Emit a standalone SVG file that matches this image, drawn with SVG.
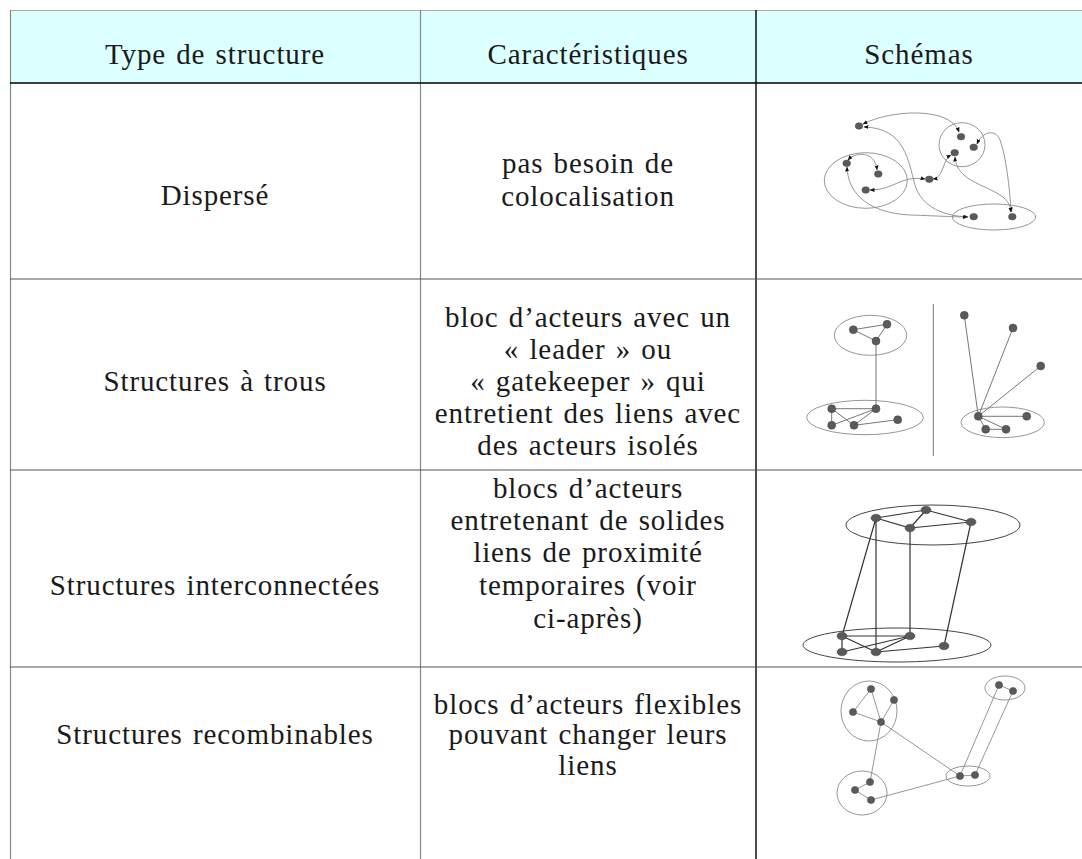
<svg xmlns="http://www.w3.org/2000/svg" width="1082" height="859" viewBox="0 0 1082 859">
<style>
text{font-family:"Liberation Serif","Times New Roman",serif;font-size:29px;fill:#1a1a1a;text-anchor:middle;letter-spacing:0.9px;word-spacing:2px}
.rl{stroke:#555;stroke-width:1;fill:none}
.el{fill:none;stroke:#8a8a8a;stroke-width:0.9}
.el3{fill:none;stroke:#444;stroke-width:1}
.nd{fill:#5a5a5a;stroke:#444;stroke-width:0.5}
.c1{fill:none;stroke:#8a8a8a;stroke-width:0.9}
.c2{fill:none;stroke:#777;stroke-width:1}
.c3{fill:none;stroke:#333;stroke-width:1.2}
.c4{fill:none;stroke:#8a8a8a;stroke-width:0.9}
</style>
<defs>
<marker id="ah" viewBox="0 0 10 10" refX="9" refY="5" markerWidth="5" markerHeight="5" orient="auto-start-reverse" markerUnits="userSpaceOnUse">
<path d="M0,1 L10,5 L0,9 z" fill="#111"/>
</marker>
</defs>
<g id="table">
<rect x="10" y="10" width="1072" height="73" fill="#dcffff"/>
<line x1="10" y1="10.5" x2="1082" y2="10.5" stroke="#aaa" stroke-width="1"/>
<line x1="10.5" y1="10" x2="10.5" y2="859" stroke="#888" stroke-width="1.2"/>
<line x1="420.5" y1="10" x2="420.5" y2="859" stroke="#888" stroke-width="1.2"/>
<line x1="756" y1="10" x2="756" y2="859" stroke="#000" stroke-width="1.4"/>
<line x1="10" y1="83" x2="1082" y2="83" stroke="#000" stroke-width="1.3"/>
<line class="rl" x1="10" y1="279" x2="1082" y2="279"/>
<line class="rl" x1="10" y1="470" x2="1082" y2="470"/>
<line class="rl" x1="10" y1="667" x2="1082" y2="667"/>
</g>
<g id="header">
<text x="215" y="64">Type de structure</text>
<text x="588" y="64">Caractéristiques</text>
<text x="919" y="64">Schémas</text>
</g>
<g id="row1">
<text x="215" y="205">Dispersé</text>
<text x="588" y="173">pas besoin de</text>
<text x="588" y="206">colocalisation</text>
</g>
<g id="row2">
<text x="215" y="391">Structures à trous</text>
<text x="588" y="327">bloc d’acteurs avec un</text>
<text x="588" y="359">« leader » ou</text>
<text x="588" y="391">« gatekeeper » qui</text>
<text x="588" y="423">entretient des liens avec</text>
<text x="588" y="455">des acteurs isolés</text>
</g>
<g id="row3">
<text x="215" y="595">Structures interconnectées</text>
<text x="588" y="498">blocs d’acteurs</text>
<text x="588" y="530">entretenant de solides</text>
<text x="588" y="562">liens de proximité</text>
<text x="588" y="595">temporaires (voir</text>
<text x="588" y="628">ci-après)</text>
</g>
<g id="row4">
<text x="215" y="744">Structures recombinables</text>
<text x="588" y="714">blocs d’acteurs flexibles</text>
<text x="588" y="744">pouvant changer leurs</text>
<text x="588" y="775">liens</text>
</g>
<g id="schema1">
<ellipse class="el" cx="865.8" cy="180.5" rx="41.5" ry="27.8"/>
<ellipse class="el" cx="962" cy="144.7" rx="23" ry="22"/>
<ellipse class="el" cx="994" cy="217" rx="41.7" ry="13"/>
<g id="schema1-connectors">
<path class="c1" d="M863,124 C890,110 950,106 959,132" marker-start="url(#ah)" marker-end="url(#ah)"/>
<path class="c1" d="M864,127 C905,128 908,160 915,185 C922,208 945,216 968,217" marker-start="url(#ah)" marker-end="url(#ah)"/>
<path class="c1" d="M977,144 C982,132 995,128 1000,140 C1006,156 1010,190 1011,212" marker-start="url(#ah)" marker-end="url(#ah)"/>
<path class="c1" d="M955,157 C956,180 985,185 1000,195 C1008,200 1010,205 1011,212" marker-start="url(#ah)" marker-end="url(#ah)"/>
<path class="c1" d="M933,179 C944,178 942,160 951,155" marker-start="url(#ah)" marker-end="url(#ah)"/>
<path class="c1" d="M925,179 C900,175 895,190 870,190" marker-start="url(#ah)" marker-end="url(#ah)"/>
<path class="c1" d="M848,160 C855,152 875,150 877,170" marker-start="url(#ah)" marker-end="url(#ah)"/>
<path class="c1" d="M847,167 C848,195 870,213 910,215 C940,216 955,217 967,217" marker-start="url(#ah)" marker-end="url(#ah)"/>
</g>
<ellipse class="nd" cx="859" cy="126" rx="3.8" ry="3.3"/>
<ellipse class="nd" cx="961" cy="136.7" rx="3.8" ry="3.3"/>
<ellipse class="nd" cx="973.7" cy="147.3" rx="3.8" ry="3.3"/>
<ellipse class="nd" cx="954.7" cy="152.7" rx="3.8" ry="3.3"/>
<ellipse class="nd" cx="846.7" cy="163.3" rx="3.8" ry="3.3"/>
<ellipse class="nd" cx="878.3" cy="174" rx="3.8" ry="3.3"/>
<ellipse class="nd" cx="865.7" cy="190" rx="3.8" ry="3.3"/>
<ellipse class="nd" cx="929.3" cy="179.3" rx="3.8" ry="3.3"/>
<ellipse class="nd" cx="973.7" cy="216.7" rx="3.8" ry="3.3"/>
<ellipse class="nd" cx="1012.3" cy="216.7" rx="3.8" ry="3.3"/>
</g>
<g id="schema2">
<ellipse class="el" cx="870.5" cy="335.3" rx="36.2" ry="20"/>
<ellipse class="el" cx="865" cy="417.5" rx="58.3" ry="17.2"/>
<ellipse class="el" cx="1002.7" cy="422.3" rx="41.7" ry="15.3"/>
<line x1="933.3" y1="304" x2="933.3" y2="456" stroke="#777" stroke-width="1"/>
<g id="schema2-connectors">
<path class="c2" d="M853.3,329.7 L887,324.3 L876,341 Z"/>
<path class="c2" d="M876,341 L876,408.7"/>
<path class="c2" d="M831.7,408.7 L876,408.7 M831.7,408.7 L831.7,425.3 M831.7,408.7 L854,425.3 M831.7,425.3 L876,408.7 M854,425.3 L876,408.7 M854,425.3 L897.7,419.7"/>
<path class="c2" d="M978.3,416.3 L964.3,315.3 M978.3,416.3 L1013,328 M978.3,416.3 L1040.7,366 M978.3,416.3 L1026.7,416.3 M978.3,416.3 L985.7,429.3 M985.7,429.3 L1006,429.3 M978.3,416.3 L1006,429.3"/>
</g>
<circle class="nd" cx="853.3" cy="329.7" r="4"/>
<circle class="nd" cx="887" cy="324.3" r="4"/>
<circle class="nd" cx="876" cy="341" r="4"/>
<circle class="nd" cx="831.7" cy="408.7" r="4"/>
<circle class="nd" cx="876" cy="408.7" r="4"/>
<circle class="nd" cx="831.7" cy="425.3" r="4"/>
<circle class="nd" cx="854" cy="425.3" r="4"/>
<circle class="nd" cx="897.7" cy="419.7" r="4"/>
<circle class="nd" cx="964.3" cy="315.3" r="4"/>
<circle class="nd" cx="1013" cy="328" r="4"/>
<circle class="nd" cx="1040.7" cy="366" r="4"/>
<circle class="nd" cx="978.3" cy="416.3" r="4"/>
<circle class="nd" cx="1026.7" cy="416.3" r="4"/>
<circle class="nd" cx="985.7" cy="429.3" r="4"/>
<circle class="nd" cx="1006" cy="429.3" r="4"/>
</g>
<g id="schema3">
<ellipse class="el3" cx="933" cy="525" rx="87" ry="20"/>
<ellipse class="el3" cx="897" cy="645" rx="94" ry="17"/>
<g id="schema3-connectors">
<path class="c3" d="M876,518 L926,510 L910,528 Z M910,528 L971,522 L926,510"/>
<path class="c3" d="M842,636 L910,636 M842,636 L842,652 M842,636 L876,652 M842,652 L910,636 M876,652 L910,636 M876,652 L944,646"/>
<path class="c3" d="M876,518 L876,652 M910,528 L910,636 M876,518 L842,636 M971,522 L944,646"/>
</g>
<ellipse class="nd" cx="876" cy="518" rx="5" ry="3.8"/>
<ellipse class="nd" cx="926" cy="510" rx="5" ry="3.8"/>
<ellipse class="nd" cx="971" cy="522" rx="5" ry="3.8"/>
<ellipse class="nd" cx="910" cy="528" rx="5" ry="3.8"/>
<ellipse class="nd" cx="842" cy="636" rx="5" ry="3.8"/>
<ellipse class="nd" cx="910" cy="636" rx="5" ry="3.8"/>
<ellipse class="nd" cx="842" cy="652" rx="5" ry="3.8"/>
<ellipse class="nd" cx="876" cy="652" rx="5" ry="3.8"/>
<ellipse class="nd" cx="944" cy="646" rx="5" ry="3.8"/>
</g>
<g id="schema4">
<ellipse class="el" cx="869" cy="711" rx="28" ry="30"/>
<ellipse class="el" cx="1005" cy="688" rx="20" ry="12"/>
<ellipse class="el" cx="968" cy="776" rx="22" ry="10"/>
<ellipse class="el" cx="862" cy="793" rx="25" ry="22"/>
<g id="schema4-connectors">
<path class="c4" d="M871,689 L853,712 M871,689 L881,722 M894,700 L881,722 M853,712 L881,722"/>
<path class="c4" d="M881,722 L960,776 M881,722 L870,782"/>
<path class="c4" d="M999,685 L1013,691 M999,685 L960,776 M1013,691 L975,775 M960,776 L975,775"/>
<path class="c4" d="M855,790 L870,782 M855,790 L871,800 M871,800 L960,776"/>
</g>
<circle class="nd" cx="871" cy="689" r="3.6"/>
<circle class="nd" cx="894" cy="700" r="3.6"/>
<circle class="nd" cx="853" cy="712" r="3.6"/>
<circle class="nd" cx="881" cy="722" r="3.6"/>
<circle class="nd" cx="999" cy="685" r="3.6"/>
<circle class="nd" cx="1013" cy="691" r="3.6"/>
<circle class="nd" cx="960" cy="776" r="3.6"/>
<circle class="nd" cx="975" cy="775" r="3.6"/>
<circle class="nd" cx="855" cy="790" r="3.6"/>
<circle class="nd" cx="870" cy="782" r="3.6"/>
<circle class="nd" cx="871" cy="800" r="3.6"/>
</g>
</svg>
